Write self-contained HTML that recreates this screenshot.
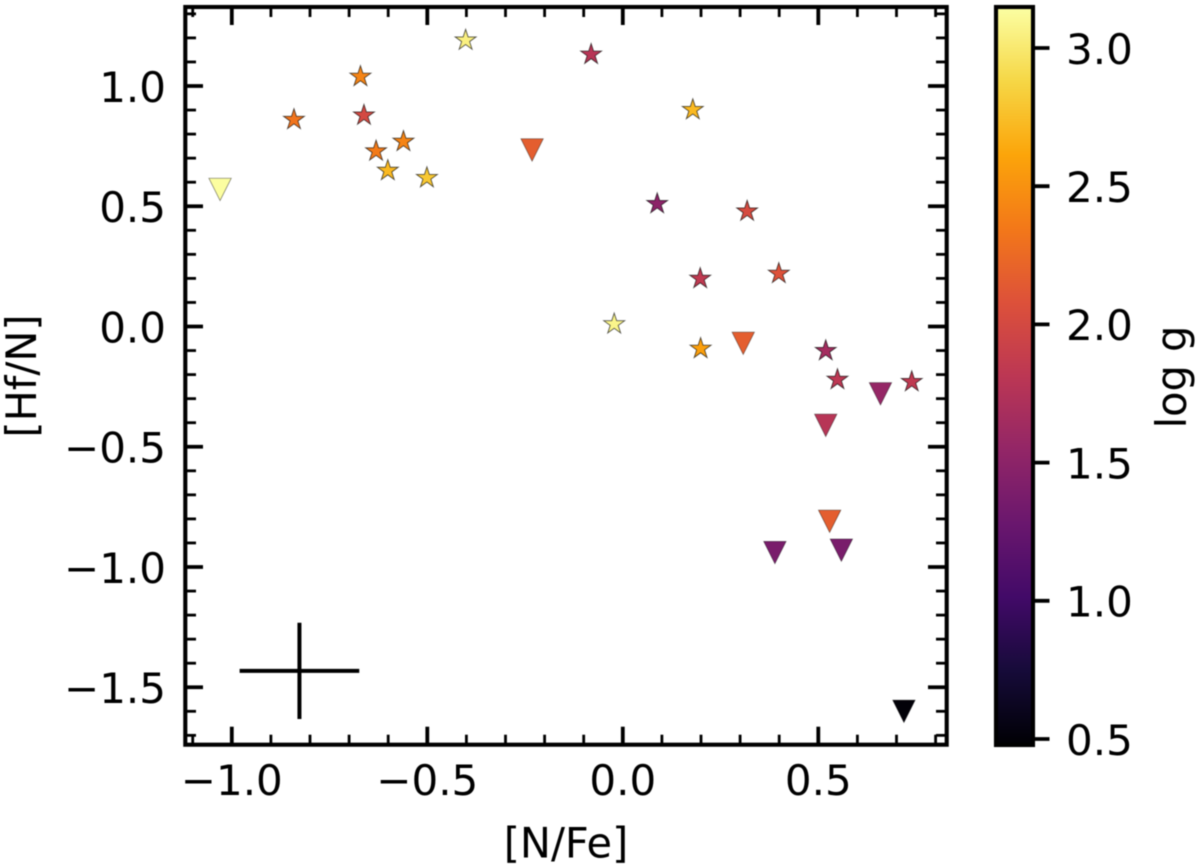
<!DOCTYPE html>
<html>
<head>
<meta charset="utf-8">
<title>[Hf/N] vs [N/Fe]</title>
<style>
html,body{margin:0;padding:0;background:#fff;}
svg{display:block;filter:blur(0.5px);}
text{font-family:"DejaVu Sans","Liberation Sans",sans-serif;fill:#000;}
</style>
</head>
<body>
<svg id="chart" xmlns="http://www.w3.org/2000/svg" width="1200" height="867" viewBox="0 0 1200 867">
  <defs>
    <linearGradient id="inferno-gradient" x1="0" y1="1" x2="0" y2="0"></linearGradient>
  </defs>
  <rect x="0" y="0" width="1200" height="867" fill="#fff"></rect>
  <g id="markers"></g>
  <g id="errorbar"></g>
  <g id="ticks"></g>
  <rect x="185.3" y="7" width="761.4" height="737.7" fill="none" stroke="#000" stroke-width="4.1"></rect>
  <g id="xlabels" font-size="42" text-anchor="middle"></g>
  <g id="ylabels" font-size="42" text-anchor="end"></g>
  <text x="566" y="857.3" font-size="41.5" text-anchor="middle">[N/Fe]</text>
  <text transform="translate(36,376) rotate(-90)" font-size="41.5" text-anchor="middle">[Hf/N]</text>
  <rect x="996" y="7" width="37" height="738" fill="url(#inferno-gradient)" stroke="#000" stroke-width="4.1"></rect>
  <g id="cbticks"></g>
  <g id="cblabels" font-size="42" text-anchor="start"></g>
  <text transform="translate(1186,377) rotate(-90)" font-size="41.5" text-anchor="middle">log g</text>
</svg>
<script>
// Star measurements
const starNFe = [-0.841, -0.671, -0.662, -0.631, -0.561, -0.601, -0.501, -0.402, -0.081, 0.179, 0.088, 0.318, 0.198, 0.399, -0.022, 0.199, 0.519, 0.549, 0.739];
const starHfN = [0.86, 1.039, 0.878, 0.729, 0.769, 0.648, 0.618, 1.19, 1.131, 0.901, 0.51, 0.479, 0.199, 0.22, 0.01, -0.092, -0.101, -0.221, -0.23];
const starLogg = [2.32, 2.42, 2.0, 2.36, 2.42, 2.72, 2.8, 3.05, 1.78, 2.72, 1.5, 2.02, 1.84, 2.08, 3.08, 2.58, 1.66, 1.82, 1.84];
// Upper-limit (triangle) measurements
const triNFe = [-1.03, -0.232, 0.308, 0.519, 0.659, 0.529, 0.389, 0.559, 0.719];
const triHfN = [0.57, 0.734, -0.07, -0.411, -0.28, -0.81, -0.94, -0.93, -1.6];
const triLogg = [3.14, 2.17, 2.17, 1.78, 1.56, 2.17, 1.38, 1.38, 0.5];
// Typical uncertainty cross
const errX = [-0.827];
const errY = [-1.432];
const errXSize = [0.153];
const errYSize = [0.2];
// Ticks
const xMajorTicks = [-1.0, -0.5, 0.0, 0.5];
const yMajorTicks = [-1.5, -1.0, -0.5, 0.0, 0.5, 1.0];
const xMinorTicks = [-1.1, -0.9, -0.8, -0.7, -0.6, -0.4, -0.3, -0.2, -0.1, 0.1, 0.2, 0.3, 0.4, 0.6, 0.7, 0.8];
const yMinorTicks = [-1.7, -1.6, -1.4, -1.3, -1.2, -1.1, -0.9, -0.8, -0.7, -0.6, -0.4, -0.3, -0.2, -0.1, 0.1, 0.2, 0.3, 0.4, 0.6, 0.7, 0.8, 0.9, 1.1, 1.2, 1.3];
const cbTicks = [0.5, 1.0, 1.5, 2.0, 2.5, 3.0];
const loggMin = [0.478];
const loggMax = [3.15];
const infernoStops = ['#000004','#160b39','#420a68','#6a176e','#932667','#bc3754','#dd513a','#f37819','#fca50a','#f6d746','#fcffa4'];

const NS = 'http://www.w3.org/2000/svg';
const xPos = v => 622.8 + v * 391;
const yPos = v => 326.5 - v * 240.5;
const cbPos = v => 877.2 - v * 276.4;
const fmt = v => v.toFixed(1).replace('-', '\u2212');

function hexToRgb(h){ return [1,3,5].map(i => parseInt(h.substr(i,2),16)); }
function loggColor(g){
  let t = (g - loggMin[0]) / (loggMax[0] - loggMin[0]);
  t = Math.max(0, Math.min(1, t)) * (infernoStops.length - 1);
  const i = Math.min(Math.floor(t), infernoStops.length - 2), f = t - i;
  const a = hexToRgb(infernoStops[i]), b = hexToRgb(infernoStops[i + 1]);
  return 'rgb(' + a.map((c, k) => Math.round(c + (b[k] - c) * f)).join(',') + ')';
}
function make(tag, attrs, parentId){
  const el = document.createElementNS(NS, tag);
  for (const k in attrs) el.setAttribute(k, attrs[k]);
  document.getElementById(parentId).appendChild(el);
  return el;
}
function line(x1, y1, x2, y2, w, parentId){
  return make('line', {x1, y1, x2, y2, stroke:'#000', 'stroke-width':w}, parentId);
}

// Colorbar gradient
const grad = document.getElementById('inferno-gradient');
infernoStops.forEach((c, i) => {
  const s = document.createElementNS(NS, 'stop');
  s.setAttribute('offset', (i / (infernoStops.length - 1)));
  s.setAttribute('stop-color', c);
  grad.appendChild(s);
});

// Ticks on all four sides, pointing inward
xMajorTicks.forEach(v => {
  const x = xPos(v);
  const t1 = line(x, 744.7, x, 726.7, 3.8, 'ticks');
  
  
  const t2 = line(x, 7, x, 25, 3.8, 'ticks');
  
  
  const lb = make('text', {x: x, y: 795}, 'xlabels');
  lb.textContent = fmt(v);
  
  
});
xMinorTicks.forEach(v => {
  const x = xPos(v);
  const t1 = line(x, 744.7, x, 734.7, 2.8, 'ticks');
  
  
  const t2 = line(x, 7, x, 17, 2.8, 'ticks');
  
  
});
yMajorTicks.forEach(v => {
  const y = yPos(v);
  const t1 = line(185.3, y, 203, y, 3.8, 'ticks');
  
  
  const t2 = line(946.7, y, 928, y, 3.8, 'ticks');
  
  
  const lb = make('text', {x: 166, y: y + 15.8}, 'ylabels');
  lb.textContent = fmt(v);
  
  
});
yMinorTicks.forEach(v => {
  const y = yPos(v);
  const t1 = line(185.3, y, 196, y, 2.8, 'ticks');
  
  
  const t2 = line(946.7, y, 936, y, 2.8, 'ticks');
  
  
});

// Colorbar ticks
cbTicks.forEach(v => {
  const y = cbPos(v);
  const t = line(1033, y, 1049.5, y, 3.8, 'cbticks');
  
  
  const lb = make('text', {x: 1066, y: y + 15.8}, 'cblabels');
  lb.textContent = v.toFixed(1);
  
  
});

// Error cross
errX.forEach((ex, i) => {
  const h = line(xPos(ex - errXSize[i]), yPos(errY[i]), xPos(ex + errXSize[i]), yPos(errY[i]), 4, 'errorbar');
  
  
  const v = line(xPos(ex), yPos(errY[i] - errYSize[i]), xPos(ex), yPos(errY[i] + errYSize[i]), 4, 'errorbar');
  
  
});

// Markers
function starPoints(cx, cy){
  const R = 11, r = R * 0.381966, pts = [];
  for (let k = 0; k < 10; k++){
    const a = -Math.PI / 2 + k * Math.PI / 5, q = k % 2 ? r : R;
    pts.push((cx + q * Math.cos(a)).toFixed(2) + ',' + (cy + q * Math.sin(a)).toFixed(2));
  }
  return pts.join(' ');
}
function triPoints(cx, cy){
  const H = 11.2;
  return (cx - H) + ',' + (cy - H) + ' ' + (cx + H) + ',' + (cy - H) + ' ' + cx + ',' + (cy + H);
}
triNFe.forEach((v, i) => {
  const m = make('polygon', {points: triPoints(xPos(v), yPos(triHfN[i])), fill: loggColor(triLogg[i]), stroke:'#000', 'stroke-opacity':0.45, 'stroke-width':0.8}, 'markers');
  
  
});
starNFe.forEach((v, i) => {
  const m = make('polygon', {points: starPoints(xPos(v), yPos(starHfN[i])), fill: loggColor(starLogg[i]), stroke:'#000', 'stroke-opacity':0.65, 'stroke-width':0.9}, 'markers');
  
  
});
</script>
</body>
</html>
